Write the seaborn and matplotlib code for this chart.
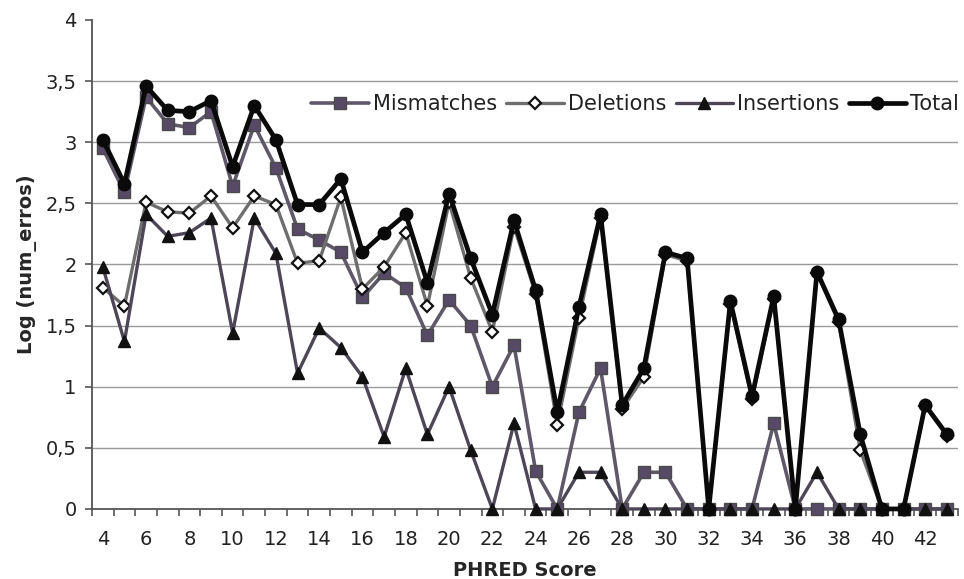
import numpy as np
import pandas as pd
import matplotlib
matplotlib.use("Agg")
import matplotlib.pyplot as plt
from matplotlib.ticker import FuncFormatter, MultipleLocator, FixedLocator
import seaborn as sns

phred = list(range(4, 44))

mismatches = [2.95, 2.59, 3.37, 3.15, 3.12, 3.25, 2.64, 3.14, 2.79, 2.29,
              2.20, 2.10, 1.73, 1.93, 1.81, 1.42, 1.71, 1.50, 1.00, 1.34,
              0.31, 0.00, 0.79, 1.15, 0.00, 0.30, 0.30, 0.00, 0.00, 0.00,
              0.00, 0.70, 0.00, 0.00, 0.00, 0.00, 0.00, 0.00, 0.00, 0.00]

deletions = [1.81, 1.66, 2.51, 2.43, 2.42, 2.56, 2.30, 2.56, 2.49, 2.01,
             2.03, 2.55, 1.80, 1.98, 2.26, 1.66, 2.51, 1.89, 1.45, 2.31,
             1.76, 0.69, 1.56, 2.38, 0.82, 1.08, 2.08, 2.03, 0.00, 1.68,
             0.90, 1.72, 0.00, 1.93, 1.53, 0.48, 0.00, 0.00, 0.84, 0.60]

insertions = [1.98, 1.37, 2.41, 2.23, 2.26, 2.38, 1.44, 2.38, 2.09, 1.11,
              1.48, 1.32, 1.08, 0.59, 1.15, 0.61, 1.00, 0.48, 0.00, 0.70,
              0.00, 0.00, 0.30, 0.30, 0.00, 0.00, 0.00, 0.00, 0.00, 0.00,
              0.00, 0.00, 0.00, 0.30, 0.00, 0.00, 0.00, 0.00, 0.00, 0.00]

total = [3.02, 2.66, 3.46, 3.26, 3.25, 3.34, 2.80, 3.30, 3.02, 2.49,
         2.49, 2.70, 2.10, 2.26, 2.41, 1.85, 2.58, 2.05, 1.59, 2.36,
         1.79, 0.79, 1.65, 2.41, 0.85, 1.15, 2.10, 2.05, 0.00, 1.70,
         0.92, 1.74, 0.00, 1.94, 1.55, 0.61, 0.00, 0.00, 0.85, 0.61]

series_names = ["Mismatches", "Deletions", "Insertions", "Total"]

df = pd.DataFrame({
    "PHRED": phred * 4,
    "value": mismatches + deletions + insertions + total,
    "serie": sum([[n] * len(phred) for n in series_names], []),
})

sns.set_theme(style="white")
plt.rcParams["font.family"] = ["DejaVu Sans"]

fig = plt.figure(figsize=(9.64, 5.79), dpi=100)
ax = fig.add_axes([0.0954, 0.121, 0.898, 0.8445])

styles = {
    "Mismatches": dict(color="#5f5868", marker="s", ms=9, mfc="#574a66", mec="#4a4a4a", lw=2.6),
    "Deletions": dict(color="#6e6e6e", marker="D", ms=6.5, mfc="white", mec="#111111", mew=1.6, lw=2.4),
    "Insertions": dict(color="#4d4657", marker="^", ms=9, mfc="#111111", mec="#111111", lw=2.4),
    "Total": dict(color="#0a0a0a", marker="o", ms=9, mfc="#0a0a0a", mec="#0a0a0a", lw=3.4),
}

for name in series_names:
    st = styles[name]
    sub = df[df["serie"] == name]
    sns.lineplot(data=sub, x="PHRED", y="value", ax=ax, label=name,
                 color=st["color"], linewidth=st["lw"], marker=st["marker"],
                 markersize=st["ms"], markerfacecolor=st["mfc"],
                 markeredgecolor=st["mec"], markeredgewidth=st.get("mew", 1.0),
                 zorder=3 + series_names.index(name), clip_on=False)

ax.set_xlim(3.5, 43.5)
ax.set_ylim(0, 4)

# y axis: comma decimal separator
ax.yaxis.set_major_locator(MultipleLocator(0.5))
ax.yaxis.set_major_formatter(FuncFormatter(lambda v, p: f"{v:g}".replace(".", ",")))
for yv in np.arange(0.5, 4.0, 0.5):
    ax.axhline(yv, color="#9a9a9a", lw=1.0, zorder=1)

# x axis: labels on even scores, tick marks between categories
ax.set_xticks(list(range(4, 44, 2)))
ax.xaxis.set_minor_locator(FixedLocator(np.arange(3.5, 44.0, 1.0)))
ax.tick_params(axis="x", which="major", length=0, labelsize=14, pad=15, colors="#222222")
ax.tick_params(axis="x", which="minor", length=5, width=1.2, color="#555555", direction="out")
ax.tick_params(axis="y", which="major", length=5, width=1.2, color="#555555",
               direction="out", labelsize=14, pad=6, labelcolor="#222222")
ax.tick_params(left=True, bottom=True, which="both")

for s in ["top", "right"]:
    ax.spines[s].set_visible(False)
for s in ["left", "bottom"]:
    ax.spines[s].set_color("#555555")
    ax.spines[s].set_linewidth(1.3)

ax.set_xlabel("PHRED Score", fontsize=14, fontweight="bold", labelpad=9)
ax.set_ylabel("Log (num_erros)", fontsize=14, fontweight="bold", labelpad=6)

leg = ax.legend(loc="upper right", bbox_to_anchor=(1.016, 0.874), ncol=4, frameon=False,
                fontsize=15, handlelength=2.75, columnspacing=0.45, handletextpad=0.2,
                borderaxespad=0.2)
for t in leg.get_texts():
    t.set_color("#222222")

fig.savefig("out.png", dpi=100, facecolor="white")
